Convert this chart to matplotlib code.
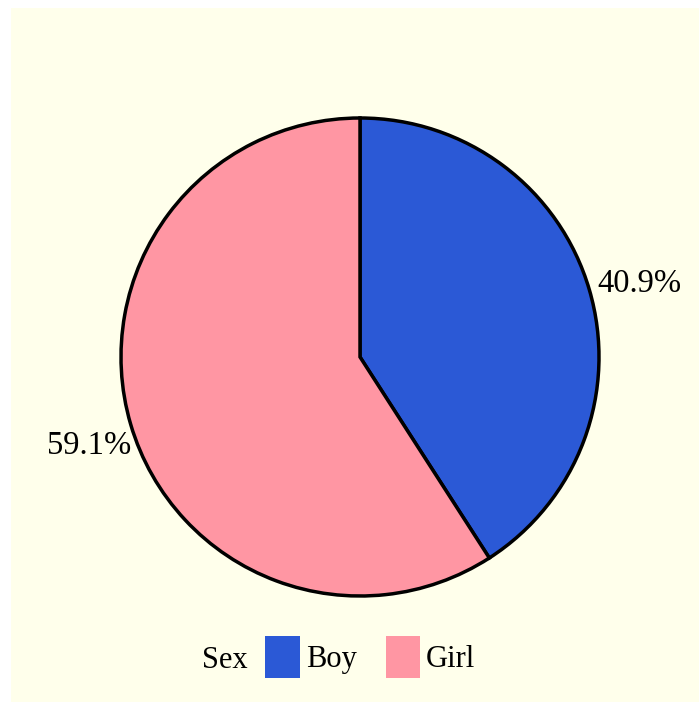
import numpy as np
import matplotlib.pyplot as plt
from matplotlib.patches import Patch, Rectangle

labels = ['Boy', 'Girl']
shares = [40.9, 59.1]
colors = ['#2B59D6', '#FF96A3']
legend_title = 'Sex'

W, H = 699, 702
fig = plt.figure(figsize=(W / 100, H / 100), dpi=100)
fig.patch.set_facecolor('white')
plt.rcParams['font.family'] = ['Liberation Serif', 'DejaVu Serif']
FS = 22

# light yellow panel
fig.patches.append(Rectangle((11 / W, 0), 1 - 11 / W, 1 - 8 / H,
                             transform=fig.transFigure, facecolor='#FFFFEB',
                             edgecolor='none', zorder=-5))

r = 239
cx, cy = 360, H - 357
ax = fig.add_axes([(cx - r) / W, (cy - r) / H, 2 * r / W, 2 * r / H], zorder=2)
ax.set_facecolor('none')
wedges, texts = ax.pie(shares, colors=colors, startangle=90, counterclock=False,
                       radius=1.0,
                       wedgeprops=dict(edgecolor='black', linewidth=2.5))
for w, s in zip(wedges, shares):
    ang = np.deg2rad((w.theta1 + w.theta2) / 2)
    ax.text(1.2 * np.cos(ang) + 4 / r, 1.2 * np.sin(ang) - 8 / r, f'{s}%',
            ha='center', va='center', fontsize=23.5, clip_on=False)
ax.set_xlim(-1, 1)
ax.set_ylim(-1, 1)
ax.set_aspect('equal')
ax.axis('off')

fig.text(202 / W, 1 - 660 / H, legend_title, fontsize=FS, ha='left', va='center')
handles = [Patch(facecolor=c, edgecolor='none') for c in colors]
fig.legend(handles, labels, loc='center left', bbox_to_anchor=(238 / W, 1 - 657 / H),
           ncol=2, frameon=False, fontsize=FS, handlelength=1.12, handleheight=1.7,
           handletextpad=0.2, columnspacing=0.95)

fig.savefig('out.png', dpi=100)
